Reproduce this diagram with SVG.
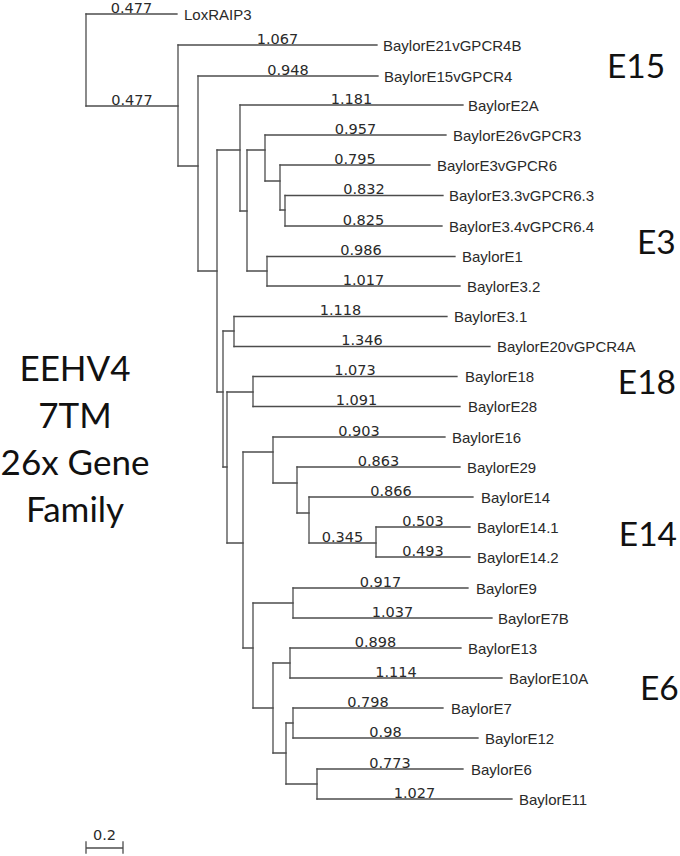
<svg xmlns="http://www.w3.org/2000/svg" width="680" height="856" viewBox="0 0 680 856">
<style>
.e{fill:none;stroke:#4d4d4d;stroke-width:1.3;stroke-linecap:square}
.lf{font-family:"Liberation Sans",Arial,sans-serif;font-size:15px;fill:#2a2a2a}
.bl{font-family:"DejaVu Sans",Verdana,sans-serif;font-size:14.5px;fill:#2a2a2a;text-anchor:middle}
.big{font-family:Lato,"Open Sans",sans-serif;font-size:33.5px;fill:#111}
.side{font-family:Lato,"Open Sans",sans-serif;font-size:35px;fill:#111;text-anchor:middle}
</style>
<rect width="680" height="856" fill="#fff"/>
<g id="connectors">
<path class="e" d="M86 14V106M178 45V166M198 76V271M217 150V392M240 105V211M247 150V271M265 135V181M280 165V210M285 195.5V226M267 256.5V286M223 331V467M234 316.5V346.5M227 392V543M253 376.5V406.5M243 452V648M273 437V483M297 467V513M309 497V543M376 527V557M253 603V708M293 588V618M273 663V753M290 648V678M286 723V784M293 708V738M317 769V799"/>
<path class="e" d="M86 106H178M178 166H198M198 271H217M217 150H240M240 211H247M247 150H265M265 181H280M280 210H285M247 271H267M217 392H223M223 331H234M223 467H227M227 392H253M227 543H243M243 452H273M273 483H297M297 513H309M309 543H376M243 648H253M253 603H293M253 708H273M273 663H290M273 753H286M286 723H293M286 784H317"/>
<path class="e" d="M86 14H177M178 45H377M198 76H378M240 105H463M265 135H446M280 165H430M285 195.5H443M285 226H442M267 256.5H455M267 286H460M234 316.5H447M234 346.5H490M253 376.5H457M253 406.5H460M273 437H445M297 467H460M309 497H473M376 527H470M376 557H470M293 588H468M293 618H492M290 648H461M290 678H502M293 708H443M293 738H478M317 769H463M317 799H512"/>
</g>
<g id="branch-lengths">
<text class="bl" x="131.5" y="12.5">0.477</text>
<text class="bl" x="132" y="104.5">0.477</text>
<text class="bl" x="277.5" y="43.5">1.067</text>
<text class="bl" x="288" y="74.5">0.948</text>
<text class="bl" x="351.5" y="103.5">1.181</text>
<text class="bl" x="355.5" y="133.5">0.957</text>
<text class="bl" x="355" y="163.5">0.795</text>
<text class="bl" x="364" y="194">0.832</text>
<text class="bl" x="363.5" y="224.5">0.825</text>
<text class="bl" x="361" y="255">0.986</text>
<text class="bl" x="363.5" y="284.5">1.017</text>
<text class="bl" x="340.5" y="315">1.118</text>
<text class="bl" x="362" y="345">1.346</text>
<text class="bl" x="355" y="375">1.073</text>
<text class="bl" x="356.5" y="405">1.091</text>
<text class="bl" x="359" y="435.5">0.903</text>
<text class="bl" x="378.5" y="465.5">0.863</text>
<text class="bl" x="391" y="495.5">0.866</text>
<text class="bl" x="423" y="525.5">0.503</text>
<text class="bl" x="423" y="555.5">0.493</text>
<text class="bl" x="342.5" y="541.5">0.345</text>
<text class="bl" x="380.5" y="586.5">0.917</text>
<text class="bl" x="392.5" y="616.5">1.037</text>
<text class="bl" x="375.5" y="646.5">0.898</text>
<text class="bl" x="396" y="676.5">1.114</text>
<text class="bl" x="368" y="706.5">0.798</text>
<text class="bl" x="385.5" y="736.5">0.98</text>
<text class="bl" x="390" y="767.5">0.773</text>
<text class="bl" x="414.5" y="797.5">1.027</text>
</g>
<g id="leaf-LoxRAIP3"><text class="lf" x="184" y="19.5">LoxRAIP3</text></g>
<g id="leaf-BaylorE21vGPCR4B"><text class="lf" x="383" y="50.5">BaylorE21vGPCR4B</text></g>
<g id="leaf-BaylorE15vGPCR4"><text class="lf" x="384" y="81.5">BaylorE15vGPCR4</text></g>
<g id="leaf-BaylorE2A"><text class="lf" x="468" y="110.5">BaylorE2A</text></g>
<g id="leaf-BaylorE26vGPCR3"><text class="lf" x="453" y="140.5">BaylorE26vGPCR3</text></g>
<g id="leaf-BaylorE3vGPCR6"><text class="lf" x="437" y="170.5">BaylorE3vGPCR6</text></g>
<g id="leaf-BaylorE3.3vGPCR6.3"><text class="lf" x="449" y="201">BaylorE3.3vGPCR6.3</text></g>
<g id="leaf-BaylorE3.4vGPCR6.4"><text class="lf" x="449" y="231.5">BaylorE3.4vGPCR6.4</text></g>
<g id="leaf-BaylorE1"><text class="lf" x="462" y="262">BaylorE1</text></g>
<g id="leaf-BaylorE3.2"><text class="lf" x="467" y="291.5">BaylorE3.2</text></g>
<g id="leaf-BaylorE3.1"><text class="lf" x="454" y="322">BaylorE3.1</text></g>
<g id="leaf-BaylorE20vGPCR4A"><text class="lf" x="497" y="352">BaylorE20vGPCR4A</text></g>
<g id="leaf-BaylorE18"><text class="lf" x="465" y="382">BaylorE18</text></g>
<g id="leaf-BaylorE28"><text class="lf" x="468" y="412">BaylorE28</text></g>
<g id="leaf-BaylorE16"><text class="lf" x="452" y="442.5">BaylorE16</text></g>
<g id="leaf-BaylorE29"><text class="lf" x="467" y="472.5">BaylorE29</text></g>
<g id="leaf-BaylorE14"><text class="lf" x="481" y="502.5">BaylorE14</text></g>
<g id="leaf-BaylorE14.1"><text class="lf" x="477" y="532.5">BaylorE14.1</text></g>
<g id="leaf-BaylorE14.2"><text class="lf" x="477" y="562.5">BaylorE14.2</text></g>
<g id="leaf-BaylorE9"><text class="lf" x="476" y="593.5">BaylorE9</text></g>
<g id="leaf-BaylorE7B"><text class="lf" x="498" y="623.5">BaylorE7B</text></g>
<g id="leaf-BaylorE13"><text class="lf" x="468" y="653.5">BaylorE13</text></g>
<g id="leaf-BaylorE10A"><text class="lf" x="509" y="683.5">BaylorE10A</text></g>
<g id="leaf-BaylorE7"><text class="lf" x="451" y="713.5">BaylorE7</text></g>
<g id="leaf-BaylorE12"><text class="lf" x="485" y="743.5">BaylorE12</text></g>
<g id="leaf-BaylorE6"><text class="lf" x="471" y="774.5">BaylorE6</text></g>
<g id="leaf-BaylorE11"><text class="lf" x="519" y="804.5">BaylorE11</text></g>
<g id="group-labels">
<text class="big" x="607" y="78">E15</text>
<text class="big" x="637" y="254">E3</text>
<text class="big" x="676" y="394" text-anchor="end">E18</text>
<text class="big" x="677" y="546" text-anchor="end">E14</text>
<text class="big" x="640" y="700">E6</text>
</g>
<g id="title">
<text class="side" x="75" y="381">EEHV4</text>
<text class="side" x="75" y="428">7TM</text>
<text class="side" x="75" y="475">26x Gene</text>
<text class="side" x="75" y="522">Family</text>
</g>
<g id="scale-bar">
<path class="e" d="M86 848H123M86 842V853M123 842V853"/>
<text class="bl" x="104.5" y="840">0.2</text>
</g>
</svg>
